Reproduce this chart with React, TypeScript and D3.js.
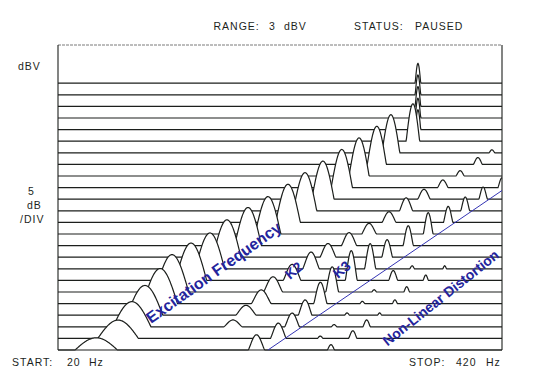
import React from 'react';
import * as d3 from 'd3';

// ---- data (trace 0 = front/bottom, 23 = back/top) ----
const fundamentalHz = [26, 30.2, 33.2, 36.3, 40.3, 43.7, 49.8, 56.7, 63.7, 73.6, 84.4, 96.8, 108.8, 123, 140, 157.6, 178, 196, 228, 236, 236, 236, 236, 236];
const fundamentalDb = [1.6, 2.4, 3.3, 3.9, 4.6, 4.9, 4.9, 4.7, 4.9, 5.0, 4.9, 5.0, 5.0, 5.0, 5.0, 5.0, 5.0, 5.0, 4.9, 2.6, 2.6, 2.6, 2.6, 2.6];
const k2Db = [0, 0, 0.9, 1.3, 1.8, 2.0, 2.1, 2.2, 1.8, 1.7, 1.4, 1.4, 1.7, 1.3, 1.0, 0.7, 0.9, 0.4, 0, 0, 0, 0, 0, 0];
const k3Db = [2.0, 2.0, 1.8, 2.0, 2.8, 3.3, 3.9, 3.3, 2.3, 2.6, 2.8, 2.1, 1.8, 1.6, 1.3, 0, 0, 0, 0, 0, 0, 0, 0, 0];
const k4Db = [0, 0.3, 0.3, 0.3, 0.3, 0.3, 1.3, 0.4, 0, 0, 0, 0, 0, 0, 0, 0, 0, 0, 0, 0, 0, 0, 0, 0];
const k5Db = [0.7, 1.0, 0.9, 0.3, 0.5, 0.7, 0.7, 0.4, 0, 0, 0, 0, 0, 0, 0, 0, 0, 0, 0, 0, 0, 0, 0, 0];
const bandwidthHz = [3.6, 4.0, 4.1, 4.2, 4.5, 4.7, 5.0, 5.3, 5.7, 6.3, 6.9, 7.6, 8.1, 8.7, 9.4, 10, 10.7, 11, 9.6, 4, 4, 4, 4, 4];
const freqDomain = [20, 420];
const distortionLine = [{ hz: 84.4, trace: 0 }, { hz: 420, trace: 13.75 }];

const INK = '#1c1f1c';
const BLUE = '#24249c';
const FONT = '"Liberation Sans", Arial, Helvetica, sans-serif';

const L = 58, R = 502, TOP = 45, BOT = 350;

export default function App() {
  const n = fundamentalHz.length;
  const x = d3.scaleLog().domain(freqDomain).range([L, R]);
  const yBase = d3.scaleLinear().domain([0, n - 1]).range([BOT, 83.2]);
  const amp = d3.scaleLinear().domain([0, 40]).range([0, 305]);
  const line = d3.line<[number, number]>();

  const traces = d3.range(n).map((i) => {
    const f0 = fundamentalHz[i];
    const bw = bandwidthHz[i];
    const levels = [fundamentalDb[i], k2Db[i], k3Db[i], k4Db[i], k5Db[i]];
    const peaks: { cx: number; h: number; hw: number; p: number }[] = [];
    levels.forEach((db, k) => {
      if (db <= 0) return;
      const f = f0 * (k + 1);
      if (f > 440) return;
      const cx = x(f);
      const h = amp(db);
      const widen = k === 0 ? 1.12 : 1.25;
      const hw = (x(f + bw) - cx) * widen * Math.min(1, Math.sqrt(h / 10));
      peaks.push({ cx, h, hw, p: k === 0 ? 1.0 : 1.2 });
    });
    const base = yBase(i);
    const xs: number[] = d3.range(L, R + 0.001, 0.5);
    peaks.forEach((p) => xs.push(p.cx));
    xs.sort((a, b) => a - b);
    const pts: [number, number][] = xs
      .filter((px) => px >= L && px <= R)
      .map((px) => {
        let h = 0;
        peaks.forEach((p) => {
          const u = Math.abs(px - p.cx) / p.hw;
          if (u < 1) h = Math.max(h, p.h * Math.pow(Math.cos((Math.PI / 2) * u), p.p));
        });
        return [px, base - h];
      });
    const fillPts: [number, number][] = [...pts, [R, BOT + 0.5], [L, BOT + 0.5]];
    return { i, stroke: line(pts) as string, fill: (line(fillPts) as string) + 'Z' };
  });

  const txt = (s: string, px: number, py: number, extra: any = {}) => (
    <text x={px} y={py} fontFamily={FONT} fontSize={10.5} letterSpacing={1} fill={INK} {...extra}>{s}</text>
  );

  const dl0 = [x(distortionLine[0].hz), yBase(distortionLine[0].trace)];
  const dl1 = [x(distortionLine[1].hz), yBase(distortionLine[1].trace)];

  return (
    <svg width={545} height={385} style={{ position: 'absolute', left: 0, top: 0, background: '#fff' }}>
      <rect width={545} height={385} fill="#fff" />
      {/* traces back to front */}
      {traces.slice().reverse().map((t) => (
        <g key={t.i}>
          <path d={t.fill} fill="#fff" stroke="none" />
          <path d={t.stroke} fill="none" stroke={INK} strokeWidth={1.2} />
        </g>
      ))}
      {/* frame */}
      <line x1={L} x2={R} y1={TOP} y2={TOP} stroke="#7a7a7a" strokeWidth={1} strokeDasharray="3 1" />
      <line x1={L} x2={L} y1={TOP} y2={BOT} stroke={INK} strokeWidth={1.1} />
      <line x1={R} x2={R} y1={TOP} y2={BOT} stroke={INK} strokeWidth={1.1} />
      <line x1={L} x2={R} y1={BOT} y2={BOT} stroke={INK} strokeWidth={1.1} />

      {/* annotations */}
      <line x1={dl0[0]} y1={dl0[1]} x2={dl1[0]} y2={dl1[1]} stroke="#3434b4" strokeWidth={1} />
      <text transform="translate(151,324) rotate(-35.5)" fontFamily={FONT} fontWeight="bold" fontSize={16} fill={BLUE}>Excitation Frequency</text>
      <text transform="translate(387.5,346.5) rotate(-38.6)" fontFamily={FONT} fontWeight="bold" fontSize={14} fill={BLUE}>Non-Linear Distortion</text>
      <text transform="translate(290,280) rotate(-40)" fontFamily={FONT} fontWeight="bold" fontSize={14} fill={BLUE}>K2</text>
      <text transform="translate(338,279) rotate(-40)" fontFamily={FONT} fontWeight="bold" fontSize={14} fill={BLUE}>K3</text>

      {/* instrument labels */}
      {txt('RANGE:', 213.5, 29.5)}
      {txt('3', 269, 29.5)}
      {txt('dBV', 284, 29.5)}
      {txt('STATUS:', 354, 29.5)}
      {txt('PAUSED', 415, 29.5)}
      {txt('dBV', 18, 70)}
      {txt('5', 28, 195)}
      {txt('dB', 27, 209)}
      {txt('/DIV', 20, 223)}
      {txt('START:', 12, 366)}
      {txt('20', 67, 366)}
      {txt('Hz', 89, 366)}
      {txt('STOP:', 409, 366)}
      {txt('420', 456, 366)}
      {txt('Hz', 486, 366)}
    </svg>
  );
}
